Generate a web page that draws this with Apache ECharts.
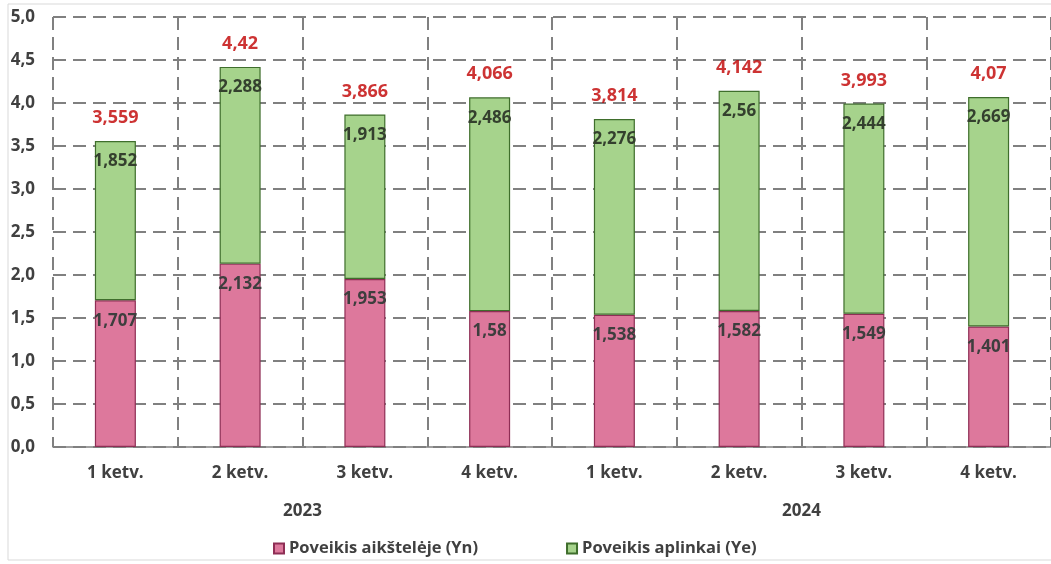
<!DOCTYPE html>
<html>
<head>
<meta charset="utf-8">
<script src="https://cdn.jsdelivr.net/npm/echarts@6/dist/echarts.min.js"></script>
<style>
  html, body { margin: 0; padding: 0; background: #fff; }
  #chart { width: 1051px; height: 564px; }
</style>
</head>
<body>
<div id="chart"></div>
<script>
// Quarterly impact values, 2023–2024
const quarters = ['1 ketv.', '2 ketv.', '3 ketv.', '4 ketv.', '1 ketv.', '2 ketv.', '3 ketv.', '4 ketv.'];
const years = ['2023', '2024'];
const onSite = [1.707, 2.132, 1.953, 1.58, 1.538, 1.582, 1.549, 1.401];
const surroundings = [1.852, 2.288, 1.913, 2.486, 2.276, 2.56, 2.444, 2.669];
const totals = [3.559, 4.42, 3.866, 4.066, 3.814, 4.142, 3.993, 4.07];
const seriesNames = ['Poveikis aikštelėje (Yn)', 'Poveikis aplinkai (Ye)'];

const FONT = '"Open Sans", "Noto Sans", sans-serif';
const comma = v => String(v).replace('.', ',');
const gridColor = '#808080';
const textColor = '#404040';

const chart = echarts.init(document.getElementById('chart'));
chart.setOption({
  animation: false,
  textStyle: { fontFamily: FONT },
  graphic: [{
    type: 'rect', z: -10,
    shape: { x: 8, y: 4, width: 1060, height: 556 },
    style: { fill: 'none', stroke: '#d9d9d9', lineWidth: 1 }
  }],
  grid: { left: 53, top: 17, width: 1000, height: 430 },
  legend: {
    left: 268, top: 535,
    itemWidth: 10, itemHeight: 10, itemGap: 88,
    textStyle: { fontFamily: FONT, fontSize: 16.5, fontWeight: 'bold', color: textColor },
    data: seriesNames.map(n => ({ name: n, icon: 'rect' }))
  },
  xAxis: [{
    type: 'category',
    data: quarters,
    axisLine: { lineStyle: { color: gridColor, width: 1.5 } },
    axisTick: { length: 38, interval: 0, lineStyle: { color: gridColor, width: 1.5 } },
    axisLabel: { margin: 18, fontFamily: FONT, fontSize: 17, fontWeight: 'bold', color: textColor, interval: 0 },
    splitLine: { show: true, interval: 0, lineStyle: { color: gridColor, width: 2, type: [13, 7] } }
  }, {
    type: 'category',
    data: years,
    position: 'bottom',
    offset: 0,
    axisLine: { show: false },
    axisTick: { length: 75, interval: 0, lineStyle: { color: gridColor, width: 1.5 } },
    axisLabel: { margin: 56, fontFamily: FONT, fontSize: 17, fontWeight: 'bold', color: textColor },
    splitLine: { show: false }
  }],
  yAxis: {
    type: 'value',
    min: 0, max: 5, interval: 0.5,
    axisLine: { show: false },
    axisTick: { show: false },
    axisLabel: {
      margin: 18, fontFamily: FONT, fontSize: 17, fontWeight: 'bold', color: textColor,
      formatter: v => v.toFixed(1).replace('.', ',')
    },
    splitLine: { lineStyle: { color: gridColor, width: 2, type: [13, 7] } }
  },
  series: [{
    name: seriesNames[0],
    type: 'bar',
    stack: 'total',
    barWidth: 41,
    data: onSite,
    itemStyle: { color: '#dd789c', borderColor: '#8e2e55', borderWidth: 1.2 },
    label: {
      show: true, position: 'insideTop', distance: 12,
      fontFamily: FONT, fontSize: 17, fontWeight: 'bold', color: '#3e3e3e',
      formatter: p => comma(p.value)
    }
  }, {
    name: seriesNames[1],
    type: 'bar',
    stack: 'total',
    barWidth: 41,
    data: surroundings,
    itemStyle: { color: '#a6d38c', borderColor: '#3f6e2c', borderWidth: 1.2 },
    label: {
      show: true, position: 'insideTop', distance: 12,
      fontFamily: FONT, fontSize: 17, fontWeight: 'bold', color: '#34402e',
      formatter: p => comma(p.value)
    }
  }, {
    name: 'total',
    type: 'scatter',
    data: totals,
    symbolSize: 0,
    silent: true,
    label: {
      show: true, position: 'top', distance: 14,
      fontFamily: FONT, fontSize: 18, fontWeight: 'bold', color: '#c00000',
      formatter: p => comma(p.value)
    }
  }]
});
</script>
</body>
</html>
